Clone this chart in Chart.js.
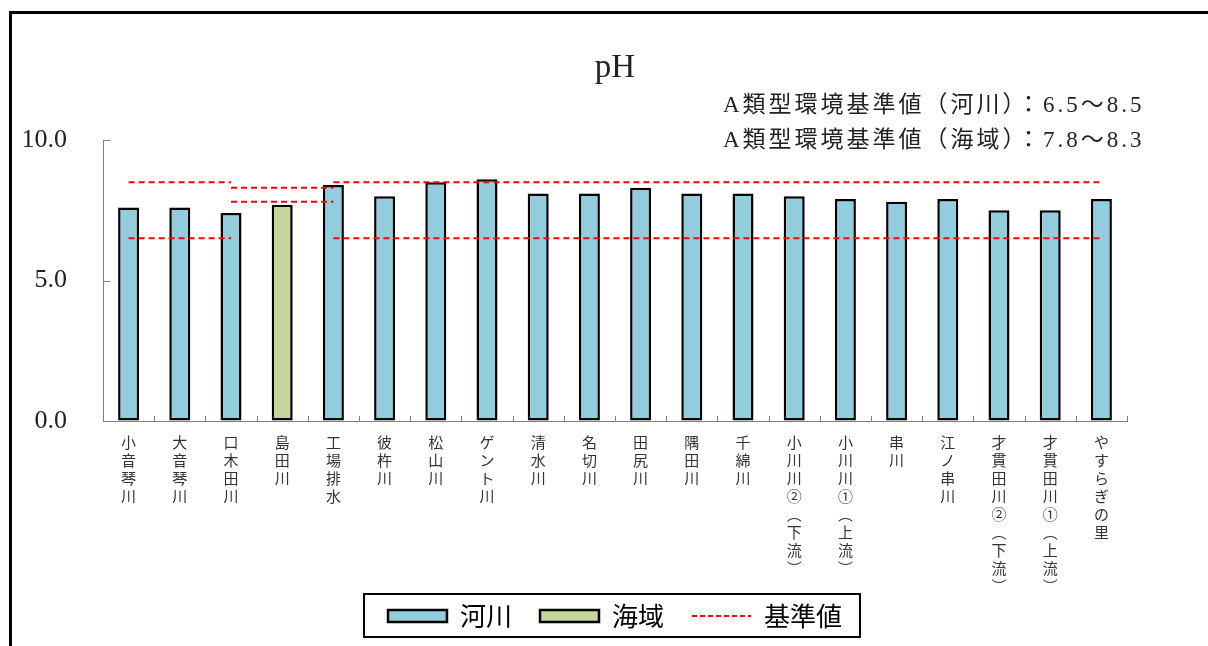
<!DOCTYPE html>
<html lang="ja">
<head>
<meta charset="utf-8">
<title>pH</title>
<script src="https://cdn.jsdelivr.net/npm/chart.js@4.4.1/dist/chart.umd.min.js"></script>
<style>
    html, body { margin: 0; padding: 0; background: #fff; }
    #wrap { position: relative; width: 1208px; height: 646px; overflow: hidden; }
    #frame { position: absolute; left: 9px; top: 11px; right: -20px; bottom: -20px;
             border-left: 3px solid #000; border-top: 3px solid #000; pointer-events: none; }
</style>
</head>
<body>
<div id="wrap">
    <canvas id="ph"></canvas>
    <div id="frame"></div>
</div>
<script>
// 調査地点
const sites = ['小音琴川', '大音琴川', '口木田川', '島田川', '工場排水', '彼杵川', '松山川', 'ゲント川',
    '清水川', '名切川', '田尻川', '隅田川', '千綿川', '小川川②（下流）', '小川川①（上流）', '串川',
    '江ノ串川', '才貫田川②（下流）', '才貫田川①（上流）', 'やすらぎの里'];

// pH 測定値
const riverPH = [7.6, 7.6, 7.4, null, 8.4, 8.0, 8.5, 8.6, 8.1, 8.1, 8.3, 8.1, 8.1, 8.0, 7.9, 7.8, 7.9, 7.5, 7.5, 7.9];
const seaPH   = [null, null, null, 7.7, null, null, null, null, null, null, null, null, null, null, null, null, null, null, null, null];

// 基準値（河川 6.5～8.5 / 海域 7.8～8.3）
const riverUpper = [8.5, 8.5, 8.5, null, 8.5, 8.5, 8.5, 8.5, 8.5, 8.5, 8.5, 8.5, 8.5, 8.5, 8.5, 8.5, 8.5, 8.5, 8.5, 8.5];
const riverLower = [6.5, 6.5, 6.5, null, 6.5, 6.5, 6.5, 6.5, 6.5, 6.5, 6.5, 6.5, 6.5, 6.5, 6.5, 6.5, 6.5, 6.5, 6.5, 6.5];
const seaUpper   = [null, null, 8.3, 8.3, 8.3, null, null, null, null, null, null, null, null, null, null, null, null, null, null, null];
const seaLower   = [null, null, 7.8, 7.8, 7.8, null, null, null, null, null, null, null, null, null, null, null, null, null, null, null];

const yMin = 0, yMax = 10, yStep = 5;
const notes = ['A類型環境基準値（河川）：6.5～8.5', 'A類型環境基準値（海域）：7.8～8.3'];

const RIVER = '#93cddd', SEA = '#c3d69b', STD = '#ff0000', AXIS = '#7f7f7f';
const SERIF = '"Liberation Serif", "Noto Sans CJK JP", serif';
const GOTHIC = '"Noto Sans CJK JP", sans-serif';

// 縦書きラベル用（括弧を縦書き用の字形に）
const vertical = s => [...s.replace(/（/g, '︵').replace(/）/g, '︶')];

const stdLine = data => ({
    type: 'line', label: '基準値', data,
    borderColor: STD, borderWidth: 2, borderDash: [6, 4],
    pointRadius: 0, fill: false, spanGaps: false, tension: 0, order: 0
});

const decorations = {
    id: 'decorations',
    afterLayout(chart) {
        // 縦書きラベルが凡例の上まで伸びるので、ラベルの描画範囲だけ下に広げる
        chart.scales.x.bottom = chart.height;
    },
    afterDraw(chart) {
        const {ctx, chartArea: a, scales: {x, y}} = chart;
        ctx.save();
        ctx.fillStyle = '#222';
        ctx.font = '33px ' + SERIF;
        ctx.textAlign = 'center';
        ctx.textBaseline = 'alphabetic';
        ctx.fillText('pH', (a.left + a.right) / 2, 77);

        ctx.font = '23px ' + SERIF;
        ctx.textAlign = 'left';
        ctx.textBaseline = 'middle';
        ctx.letterSpacing = '3px';
        notes.forEach((t, i) => ctx.fillText(t, 723, 106 + i * 35));
        ctx.letterSpacing = '0px';

        // 内向きの目盛り
        ctx.strokeStyle = AXIS;
        ctx.lineWidth = 1;
        ctx.beginPath();
        y.ticks.forEach(t => {
            const py = Math.round(y.getPixelForValue(t.value)) + 0.5;
            ctx.moveTo(a.left, py);
            ctx.lineTo(a.left + 7, py);
        });
        const step = x.width / sites.length;
        for (let i = 1; i <= sites.length; i++) {
            const px = Math.round(x.left + i * step) + 0.5;
            ctx.moveTo(px, a.bottom);
            ctx.lineTo(px, a.bottom - 5);
        }
        ctx.stroke();

        // 凡例の枠
        const boxes = chart.legend.legendHitBoxes;
        if (boxes && boxes.length) {
            const first = boxes[0], last = boxes[boxes.length - 1];
            const cy = first.top + first.height / 2;
            ctx.strokeStyle = '#000';
            ctx.lineWidth = 2;
            ctx.strokeRect(first.left - 24, cy - 22, last.left + last.width + 18 - (first.left - 24), 43);
        }
        ctx.restore();
    }
};

new Chart(document.getElementById('ph'), {
    type: 'bar',
    data: {
        labels: sites,
        datasets: [
            {label: '河川', data: riverPH, backgroundColor: RIVER, borderColor: '#000', borderWidth: 2.5,
             borderSkipped: false, barPercentage: 0.41, categoryPercentage: 1, grouped: false, order: 1},
            {label: '海域', data: seaPH, backgroundColor: SEA, borderColor: '#000', borderWidth: 2.5,
             borderSkipped: false, barPercentage: 0.41, categoryPercentage: 1, grouped: false, order: 1},
            stdLine(riverUpper),
            stdLine(riverLower),
            stdLine(seaUpper),
            stdLine(seaLower)
        ]
    },
    options: {
        responsive: true,
        maintainAspectRatio: false,
        animation: false,
        layout: {padding: {top: 140, right: 81, bottom: 7, left: 0}},
        plugins: {
            tooltip: {enabled: false},
            title: {display: false},
            legend: {
                position: 'bottom',
                fullSize: false,
                labels: {
                    usePointStyle: true,
                    pointStyleWidth: 59,
                    boxHeight: 12,
                    padding: 28,
                    color: '#333',
                    font: {family: GOTHIC, size: 26},
                    generateLabels: () => [
                        {text: '河川', fillStyle: RIVER, strokeStyle: '#000', lineWidth: 2.5, pointStyle: 'rect', datasetIndex: 0},
                        {text: '海域', fillStyle: SEA, strokeStyle: '#000', lineWidth: 2.5, pointStyle: 'rect', datasetIndex: 1},
                        {text: '基準値', fillStyle: 'rgba(0,0,0,0)', strokeStyle: STD, lineWidth: 2, lineDash: [5, 3], pointStyle: 'line', datasetIndex: 2}
                    ]
                }
            }
        },
        scales: {
            x: {
                offset: true,
                grid: {drawOnChartArea: false, drawTicks: false},
                border: {color: AXIS, width: 1},
                ticks: {
                    autoSkip: false, maxRotation: 0, padding: 12, color: '#333',
                    font: {family: GOTHIC, size: 15, lineHeight: 1.2},
                    callback: (v, i) => vertical(sites[i])
                },
                afterFit: s => { s.height = 154; }
            },
            y: {
                min: yMin, max: yMax,
                grid: {drawOnChartArea: false, drawTicks: false},
                border: {color: AXIS, width: 1},
                ticks: {
                    stepSize: yStep, padding: 36, color: '#222',
                    font: {family: SERIF, size: 26},
                    callback: v => v.toFixed(1)
                },
                afterFit: s => { s.width = 103; }
            }
        }
    },
    plugins: [decorations]
});
</script>
</body>
</html>
